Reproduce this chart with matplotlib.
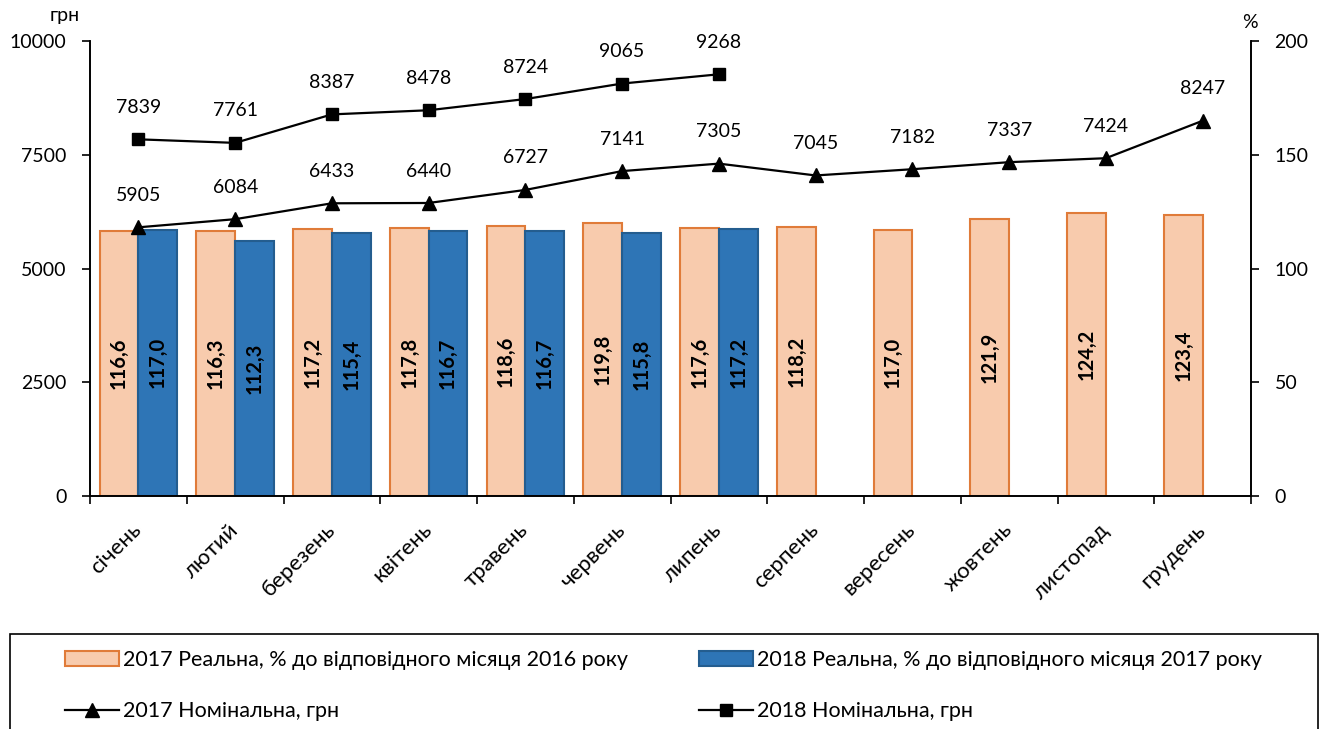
import matplotlib.pyplot as plt
import numpy as np
from matplotlib.patches import Rectangle, Patch
from matplotlib.lines import Line2D

plt.rcParams['font.family'] = ['Lato', 'DejaVu Sans']

months = ['січень', 'лютий', 'березень', 'квітень', 'травень', 'червень',
          'липень', 'серпень', 'вересень', 'жовтень', 'листопад', 'грудень']
real_2017 = [116.6, 116.3, 117.2, 117.8, 118.6, 119.8, 117.6, 118.2, 117.0, 121.9, 124.2, 123.4]
real_2018 = [117.0, 112.3, 115.4, 116.7, 116.7, 115.8, 117.2]
nom_2017 = [5905, 6084, 6433, 6440, 6727, 7141, 7305, 7045, 7182, 7337, 7424, 8247]
nom_2018 = [7839, 7761, 8387, 8478, 8724, 9065, 9268]

lbl_r17 = '2017 Реальна, % до відповідного місяця 2016 року'
lbl_r18 = '2018 Реальна, % до відповідного місяця 2017 року'
lbl_n17 = '2017 Номінальна, грн'
lbl_n18 = '2018 Номінальна, грн'

c_or_fill = '#F8CBAD'
c_or_edge = '#E07B39'
c_bl_fill = '#2E75B6'
c_bl_edge = '#245D8F'

fig = plt.figure(figsize=(13.2, 7.29), dpi=100)
ax = fig.add_axes([90/1320, 1-496/729, 1161/1320, 455/729])
ax2 = ax.twinx()
ax.set_zorder(ax2.get_zorder() + 1)
ax.patch.set_visible(False)

x = np.arange(len(months))
w = 0.4
x18 = x[:len(real_2018)]

# bars on the % axis
ax2.bar(x - w/2, real_2017, w, color=c_or_fill, edgecolor=c_or_edge, linewidth=1.5)
ax2.bar(x18 + w/2, real_2018, w, color=c_bl_fill, edgecolor=c_bl_edge, linewidth=1.5)
for xi, v in zip(x - w/2, real_2017):
    ax2.text(xi, v/2, f'{v:.1f}'.replace('.', ','), rotation=90, ha='center', va='center',
             fontsize=14.5, fontweight='bold')
for xi, v in zip(x18 + w/2, real_2018):
    ax2.text(xi, v/2, f'{v:.1f}'.replace('.', ','), rotation=90, ha='center', va='center',
             fontsize=14.5, fontweight='bold')

# lines on the grn axis
ax.plot(x, nom_2017, color='black', lw=1.6, marker='^', markersize=10)
ax.plot(x18, nom_2018, color='black', lw=1.6, marker='s', markersize=8)
for xi, v in zip(x, nom_2017):
    ax.annotate(str(v), (xi, v), xytext=(0, 23), textcoords='offset points',
                ha='center', va='center', fontsize=14)
for xi, v in zip(x18, nom_2018):
    ax.annotate(str(v), (xi, v), xytext=(0, 23), textcoords='offset points',
                ha='center', va='center', fontsize=14)

ax.set_xlim(-0.5, len(months) - 0.5)
ax.set_ylim(0, 10000)
ax2.set_ylim(0, 200)
ax.set_yticks([0, 2500, 5000, 7500, 10000])
ax2.set_yticks([0, 50, 100, 150, 200])

ax.set_xticks(x)
ax.set_xticklabels(months, rotation=45, ha='right', va='center', rotation_mode='anchor')
ax.set_xticks(np.arange(-0.5, len(months)), minor=True)
ax.tick_params(axis='x', which='major', length=0, pad=22, labelsize=16)
ax.tick_params(axis='x', which='minor', length=6, width=1.2, direction='out')
ax.tick_params(axis='y', length=6, width=1.2, labelsize=14, pad=11)
ax2.tick_params(axis='y', length=6, width=1.2, labelsize=14, pad=11)

for a in (ax, ax2):
    a.spines['top'].set_visible(False)
    for s in ('left', 'right', 'bottom'):
        a.spines[s].set_linewidth(1.2)

fig.text(65/1320, 1-16/729, 'грн', ha='center', va='center', fontsize=14)
fig.text(1250/1320, 1-22/729, '%', ha='center', va='center', fontsize=14)

# legend, filled row by row
handles = [Patch(facecolor=c_or_fill, edgecolor=c_or_edge, linewidth=1.5),
           Line2D([], [], color='black', lw=1.6, marker='^', markersize=10),
           Patch(facecolor=c_bl_fill, edgecolor=c_bl_edge, linewidth=1.5),
           Line2D([], [], color='black', lw=1.6, marker='s', markersize=8)]
labels = [lbl_r17, lbl_n17, lbl_r18, lbl_n18]
fig.legend(handles, labels, ncol=2, loc='upper left', mode='expand',
           bbox_to_anchor=(65/1320, 1-650/729, 1197/1320, 0), frameon=False,
           fontsize=15.5, handlelength=2.5, handleheight=0.7, labelspacing=1.45,
           handletextpad=0.2, borderaxespad=0, borderpad=0)
fig.add_artist(Rectangle((10/1320, -0.05), 1308/1320, 0.05 + 1 - 634/729,
                         transform=fig.transFigure, fill=False, edgecolor='black', lw=1.2))

fig.savefig('out.png', dpi=100)
